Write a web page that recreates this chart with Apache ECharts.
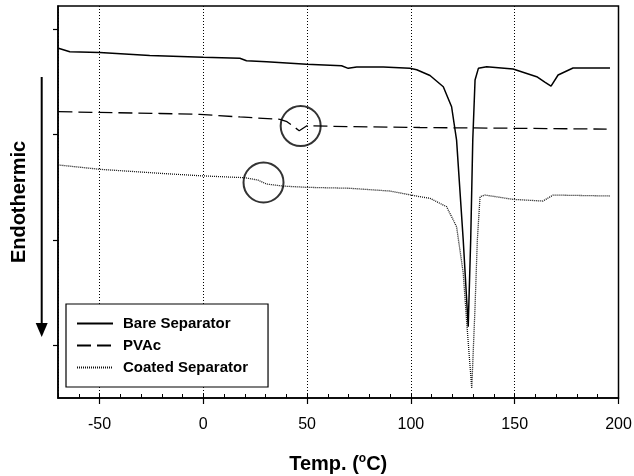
<!DOCTYPE html>
<html>
<head>
<meta charset="utf-8">
<script src="https://cdn.jsdelivr.net/npm/echarts@6/dist/echarts.min.js"></script>
<style>
html,body{margin:0;padding:0;background:#fff;}
#chart{width:634px;height:476px;}
</style>
</head>
<body>
<div id="chart"></div>
<script>
// Temperature (°C) / heat flow (arbitrary units)
const seriesNames = ['Bare Separator', 'PVAc', 'Coated Separator'];

const bareT = [-69.8,-64.3,-49.9,-25.8,0,17.6,20.8,30.5,49.8,66.6,69.8,73.9,86.7,99.5,102.8,109.2,115.6,119.6,122.0,125.2,127.6,128.8,129.8,130.9,132.5,136.5,149.2,160.6,164.5,167.5,170.9,178.1,195.9];
const bareQ = [33.15,32.82,32.75,32.46,32.29,32.20,31.97,31.88,31.63,31.50,31.25,31.37,31.37,31.25,31.12,30.57,29.51,27.61,24.45,14.98,6.76,14.98,24.45,30.14,31.25,31.40,31.18,30.46,29.95,29.57,30.62,31.28,31.28];

const pvacT = [-69.8,-20.9,-1.7,17.6,36.9,40.3,46.2,49.9,70.6,104.4,142.9,194.3];
const pvacQ = [27.14,26.97,26.89,26.64,26.42,26.19,25.34,25.81,25.72,25.64,25.58,25.49];

const coatedT = [-69.8,-49.9,-20.9,-1.7,20.0,26.3,30.5,38.3,49.8,70.6,89.9,104.4,109.2,117.2,122.0,125.2,126.9,129.3,130.9,132.0,133.3,135.7,149.2,163.6,166.1,168.6,195.9];
const coatedQ = [22.09,21.68,21.30,21.07,20.88,20.66,20.28,20.09,19.97,19.88,19.62,19.08,18.93,18.13,16.24,11.85,7.11,0.92,8.65,14.98,19.08,19.24,18.83,18.67,18.96,19.24,19.15];

// highlight circles (transition markers)
const circleT = [46.9, 29.0];
const circleQ = [25.78, 20.43];

// axes
const xMin = -70, xMax = 200;
const yMin = 0, yMax = 37.16;
const yTickValues = [5, 15, 25, 35];

const zip = (a, b) => a.map((v, i) => [v, b[i]]);
const FONT = "'Liberation Sans', Arial, Helvetica, sans-serif";

const chart = echarts.init(document.getElementById('chart'), null, {renderer: 'canvas'});
chart.setOption({
  animation: false,
  backgroundColor: '#fff',
  grid: {left: 58, right: 15.5, top: 6, bottom: 78, containLabel: false, outerBoundsMode: 'none',
    show: true, borderColor: '#000', borderWidth: 1.5, backgroundColor: 'transparent'},
  legend: {
    data: seriesNames,
    orient: 'vertical',
    left: 66, top: 304,
    padding: [12, 20, 12, 10],
    itemWidth: 36, itemHeight: 14, itemGap: 7,
    borderColor: '#000', borderWidth: 1.2, backgroundColor: '#fff',
    itemStyle: {opacity: 0},
    textStyle: {fontFamily: FONT, fontSize: 15, fontWeight: 'bold', color: '#000', padding: [0, 0, 0, 5]}
  },
  xAxis: [{
    type: 'value', min: xMin, max: xMax, splitNumber: 5,
    axisLine: {show: true, onZero: false, lineStyle: {color: '#000', width: 1.5}},
    axisTick: {show: true, inside: false, length: 6, lineStyle: {color: '#000', width: 1.2}},
    axisLabel: {showMinLabel: false, fontFamily: FONT, fontSize: 16, color: '#000', margin: 19},
    splitLine: {show: true, lineStyle: {color: '#000', width: 1, type: [1, 2]}},
    name: 'Temp. ({s|o}C)', nameLocation: 'middle', nameGap: 55,
    nameTextStyle: {fontFamily: FONT, fontSize: 20, fontWeight: 'bold', color: '#000', lineHeight: 22,
      rich: {s: {fontFamily: FONT, fontSize: 12, fontWeight: 'bold', color: '#000', verticalAlign: 'top', lineHeight: 12}}}
  }, {
    type: 'value', min: xMin, max: xMax, interval: 10, position: 'bottom',
    axisLine: {show: false, onZero: false},
    axisTick: {show: true, inside: true, length: 4, lineStyle: {color: '#000', width: 1}},
    axisLabel: {show: false},
    splitLine: {show: false}
  }],
  yAxis: {
    type: 'value', min: yMin, max: yMax,
    axisLine: {show: true, onZero: false, lineStyle: {color: '#000', width: 1.5}},
    axisTick: {show: true, inside: false, length: 5, customValues: yTickValues, lineStyle: {color: '#000', width: 1.2}},
    axisLabel: {show: false},
    splitLine: {show: false},
    name: 'Endothermic', nameLocation: 'middle', nameRotate: 90, nameGap: 29,
    nameTextStyle: {fontFamily: FONT, fontSize: 20, fontWeight: 'bold', color: '#000'}
  },
  graphic: [
    {type: 'line', shape: {x1: 41.7, y1: 77, x2: 41.7, y2: 326}, style: {stroke: '#000', lineWidth: 2}},
    {type: 'polygon', shape: {points: [[35.7, 323], [47.7, 323], [41.7, 337]]}, style: {fill: '#000'}}
  ],
  series: [
    {name: seriesNames[0], type: 'line', data: zip(bareT, bareQ), showSymbol: false, symbol: 'none',
      lineStyle: {color: '#000', width: 1.5, type: 'solid'}, itemStyle: {color: '#000'}, z: 3},
    {name: seriesNames[1], type: 'line', data: zip(pvacT, pvacQ), showSymbol: false, symbol: 'none',
      lineStyle: {color: '#000', width: 1.3, type: [14, 6]}, itemStyle: {color: '#000'}, z: 3},
    {name: seriesNames[2], type: 'line', data: zip(coatedT, coatedQ), showSymbol: false, symbol: 'none',
      lineStyle: {color: '#111', width: 1.3, type: [1, 1]}, itemStyle: {color: '#111'}, z: 3},
    {name: 'markers', type: 'scatter', data: zip(circleT, circleQ), symbol: 'circle', symbolSize: 40,
      itemStyle: {color: 'rgba(0,0,0,0)', borderColor: '#000', borderWidth: 2}, silent: true, z: 4}
  ]
});
</script>
</body>
</html>
